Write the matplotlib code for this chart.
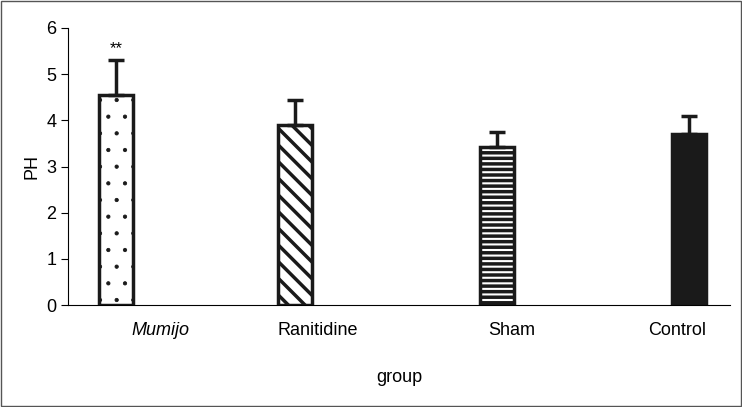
import matplotlib.pyplot as plt
import numpy as np

plt.rcParams["font.family"] = "Liberation Sans"
plt.rcParams["hatch.linewidth"] = 2.5

groups = ["Mumijo", "Ranitidine", "Sham", "Control"]
ph_mean = [4.55, 3.9, 3.42, 3.7]
ph_err = [0.75, 0.55, 0.33, 0.4]
hatches = [".", "\\\\", "---", None]
fills = ["white", "white", "white", "#1a1a1a"]
marks = ["**", "", "", ""]

# bar offsets within each category slot (layout only)
offsets = [-0.21, -0.13, 0.09, 0.25]

fig = plt.figure(figsize=(7.42, 4.07), dpi=100)
fig.patches.append(plt.Rectangle((0.002, 0.002), 0.996, 0.996, transform=fig.transFigure,
                                 fill=False, edgecolor="#555555", lw=1))
ax = fig.add_axes([68 / 742, 1 - 305 / 407, 662 / 742, 277 / 407])

x = np.arange(len(groups))
w = 0.206
for i, (m, e, h, fc) in enumerate(zip(ph_mean, ph_err, hatches, fills)):
    xi = x[i] + offsets[i]
    bars = ax.bar(xi, m, width=w, color=fc, hatch=h, edgecolor="#1a1a1a", lw=2.5)
    if h == "." and hasattr(bars[0], "set_hatch_linewidth"):
        bars[0].set_hatch_linewidth(0.6)
    ax.errorbar(xi, m, yerr=[[0], [e]], color="#1a1a1a", capsize=6, capthick=2.5, elinewidth=2.5)
    if marks[i]:
        ax.text(xi, m + e + 0.1, marks[i], ha="center", va="bottom", fontsize=12)

ax.set_xlim(-0.5, 3.5)
ax.set_ylim(0, 6)
ax.set_xticks(x + np.array([0.056, 0.01, 0.18, 0.18]))
ax.set_xticklabels(groups, fontsize=13)
ax.get_xticklabels()[0].set_style("italic")
ax.tick_params(axis="x", length=0, pad=12)
ax.tick_params(axis="y", labelsize=13, direction="out", length=5)
ax.set_ylabel("PH", fontsize=13)
ax.set_xlabel("group", fontsize=13, labelpad=22)
for s in ["top", "right"]:
    ax.spines[s].set_visible(False)

fig.savefig("out.png", dpi=100)
